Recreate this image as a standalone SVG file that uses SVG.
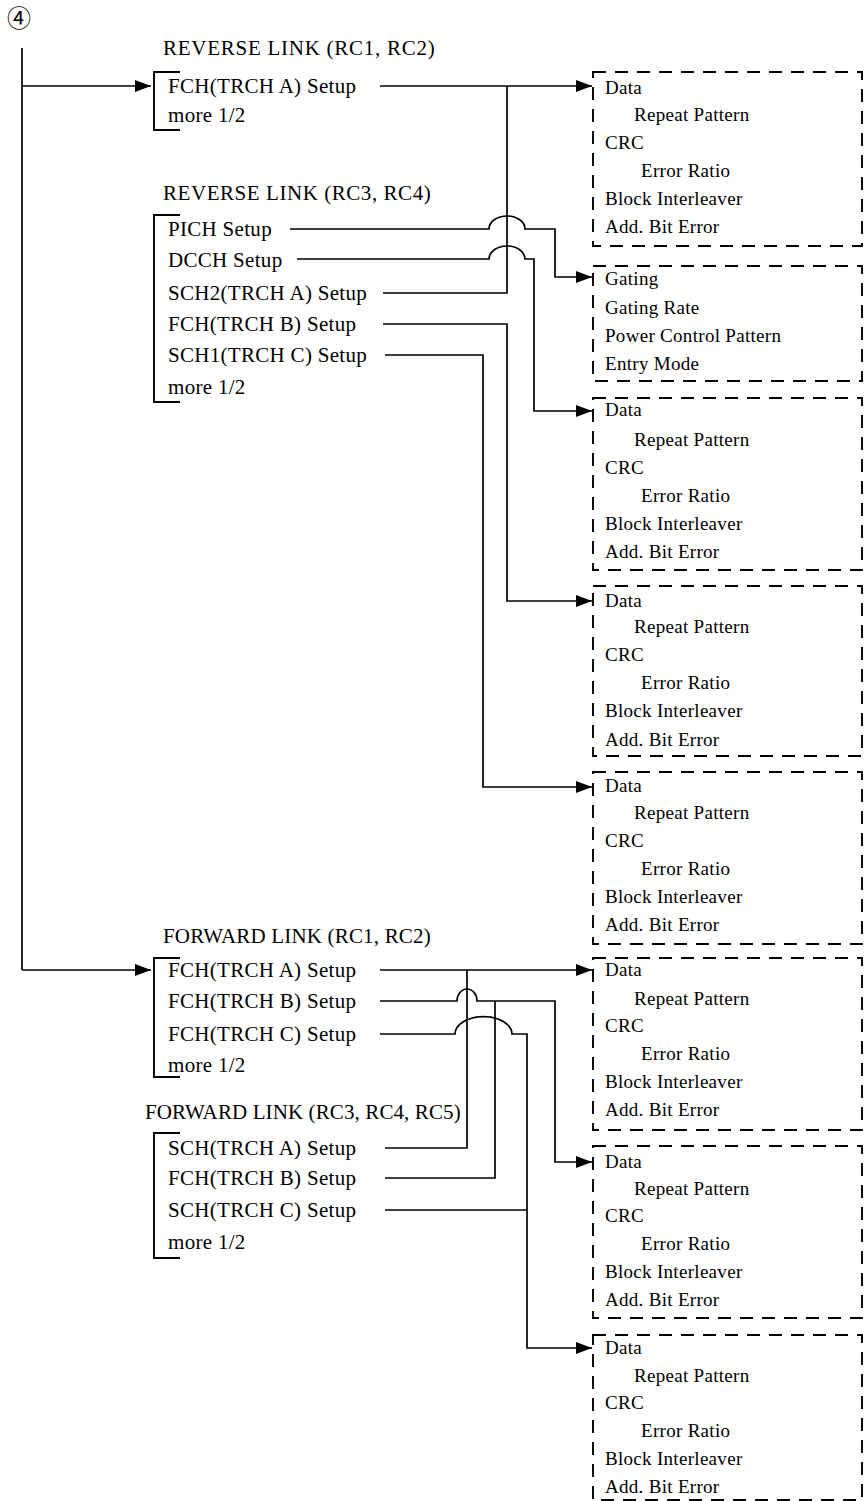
<svg xmlns="http://www.w3.org/2000/svg" width="864" height="1501" viewBox="0 0 864 1501">
<style>
text{font-family:"Liberation Serif","Times New Roman",serif;fill:#000}
.l text{font-size:21px;letter-spacing:0.3px}
.b text{font-size:19px;letter-spacing:0.3px}
.c{fill:none;stroke:#000;stroke-width:1.7}
.br{fill:none;stroke:#000;stroke-width:1.9}
.bx{fill:none;stroke:#000;stroke-width:1.9;stroke-dasharray:13 9}
</style>
<defs>
<marker id="ah" viewBox="0 0 16 12" refX="16" refY="6" markerWidth="16" markerHeight="12" markerUnits="userSpaceOnUse" orient="auto">
<path d="M0,0 L16,6 L0,12 z" fill="#000"/>
</marker>
</defs>
<text x="7" y="27" style="font-family:'Noto Sans CJK JP','DejaVu Sans',sans-serif;font-size:24px">④</text>

<g id="connectors">
<path class="c" d="M22,48 V970"/>
<path class="c" d="M22,86 H151" marker-end="url(#ah)"/>
<path class="c" d="M22,970 H151" marker-end="url(#ah)"/>
<path class="c" d="M380,86 H592" marker-end="url(#ah)"/>
<path class="c" d="M507,86 V293 H383"/>
<path class="c" d="M290,229 H489 A18,13 0 0 1 525,229 H555 V277 H592" marker-end="url(#ah)"/>
<path class="c" d="M297,259 H489 A18,13 0 0 1 525,259 H534 V411 H592" marker-end="url(#ah)"/>
<path class="c" d="M383,324 H507 V601 H592" marker-end="url(#ah)"/>
<path class="c" d="M385,355 H483 V787 H592" marker-end="url(#ah)"/>
<path class="c" d="M380,970 H592" marker-end="url(#ah)"/>
<path class="c" d="M467,970 V1148 H385"/>
<path class="c" d="M380,1001 H457 A10,12 0 0 1 477,1001 H555 V1162 H592" marker-end="url(#ah)"/>
<path class="c" d="M495,1001 V1178 H385"/>
<path class="c" d="M380,1034 H455 A28,17 0 0 1 512,1034 H527 V1348 H592" marker-end="url(#ah)"/>
<path class="c" d="M385,1210 H527"/>
</g>

<g id="rev12" class="l">
<text x="163" y="55" textLength="272">REVERSE LINK (RC1, RC2)</text>
<path class="br" d="M180,72 H154 V130 H180"/>
<text x="168" y="93">FCH(TRCH A) Setup</text>
<text x="168" y="122">more 1/2</text>
</g>

<g id="rev34" class="l">
<text x="163" y="200" textLength="268">REVERSE LINK (RC3, RC4)</text>
<path class="br" d="M180,215 H154 V402 H180"/>
<text x="168" y="236">PICH Setup</text>
<text x="168" y="267">DCCH Setup</text>
<text x="168" y="300">SCH2(TRCH A) Setup</text>
<text x="168" y="331">FCH(TRCH B) Setup</text>
<text x="168" y="362">SCH1(TRCH C) Setup</text>
<text x="168" y="394">more 1/2</text>
</g>

<g id="fwd12" class="l">
<text x="163" y="943" textLength="268">FORWARD LINK (RC1, RC2)</text>
<path class="br" d="M180,958 H154 V1077 H180"/>
<text x="168" y="977">FCH(TRCH A) Setup</text>
<text x="168" y="1008">FCH(TRCH B) Setup</text>
<text x="168" y="1041">FCH(TRCH C) Setup</text>
<text x="168" y="1072">more 1/2</text>
</g>

<g id="fwd345" class="l">
<text x="145" y="1119" textLength="316">FORWARD LINK (RC3, RC4, RC5)</text>
<path class="br" d="M180,1133 H154 V1258 H180"/>
<text x="168" y="1155">SCH(TRCH A) Setup</text>
<text x="168" y="1185">FCH(TRCH B) Setup</text>
<text x="168" y="1217">SCH(TRCH C) Setup</text>
<text x="168" y="1249">more 1/2</text>
</g>

<g id="box1" class="b">
<rect class="bx" x="593" y="72" width="269" height="174"/>
<text x="605" y="94">Data</text>
<text x="634" y="121">Repeat Pattern</text>
<text x="641" y="177">Error Ratio</text>
<text x="605" y="149">CRC</text>
<text x="605" y="205">Block Interleaver</text>
<text x="605" y="233">Add. Bit Error</text>
</g>

<g id="box2" class="b">
<rect class="bx" x="593" y="266" width="269" height="115"/>
<text x="605" y="285">Gating</text>
<text x="605" y="314">Gating Rate</text>
<text x="605" y="342">Power Control Pattern</text>
<text x="605" y="370">Entry Mode</text>
</g>

<g id="box3" class="b">
<rect class="bx" x="593" y="398" width="269" height="172"/>
<text x="605" y="416">Data</text>
<text x="634" y="446">Repeat Pattern</text>
<text x="605" y="474">CRC</text>
<text x="641" y="502">Error Ratio</text>
<text x="605" y="530">Block Interleaver</text>
<text x="605" y="558">Add. Bit Error</text>
</g>

<g id="box4" class="b">
<rect class="bx" x="593" y="586" width="269" height="170"/>
<text x="605" y="607">Data</text>
<text x="634" y="633">Repeat Pattern</text>
<text x="605" y="661">CRC</text>
<text x="641" y="689">Error Ratio</text>
<text x="605" y="717">Block Interleaver</text>
<text x="605" y="746">Add. Bit Error</text>
</g>

<g id="box5" class="b">
<rect class="bx" x="593" y="772" width="269" height="172"/>
<text x="605" y="792">Data</text>
<text x="634" y="819">Repeat Pattern</text>
<text x="605" y="847">CRC</text>
<text x="641" y="875">Error Ratio</text>
<text x="605" y="903">Block Interleaver</text>
<text x="605" y="931">Add. Bit Error</text>
</g>

<g id="box6" class="b">
<rect class="bx" x="593" y="958" width="269" height="172"/>
<text x="605" y="976">Data</text>
<text x="634" y="1005">Repeat Pattern</text>
<text x="605" y="1032">CRC</text>
<text x="641" y="1060">Error Ratio</text>
<text x="605" y="1088">Block Interleaver</text>
<text x="605" y="1116">Add. Bit Error</text>
</g>

<g id="box7" class="b">
<rect class="bx" x="593" y="1146" width="269" height="172"/>
<text x="605" y="1168">Data</text>
<text x="634" y="1195">Repeat Pattern</text>
<text x="605" y="1222">CRC</text>
<text x="641" y="1250">Error Ratio</text>
<text x="605" y="1278">Block Interleaver</text>
<text x="605" y="1306">Add. Bit Error</text>
</g>

<g id="box8" class="b">
<rect class="bx" x="593" y="1335" width="269" height="165"/>
<text x="605" y="1354">Data</text>
<text x="634" y="1382">Repeat Pattern</text>
<text x="605" y="1409">CRC</text>
<text x="641" y="1437">Error Ratio</text>
<text x="605" y="1465">Block Interleaver</text>
<text x="605" y="1493">Add. Bit Error</text>
</g>
</svg>
